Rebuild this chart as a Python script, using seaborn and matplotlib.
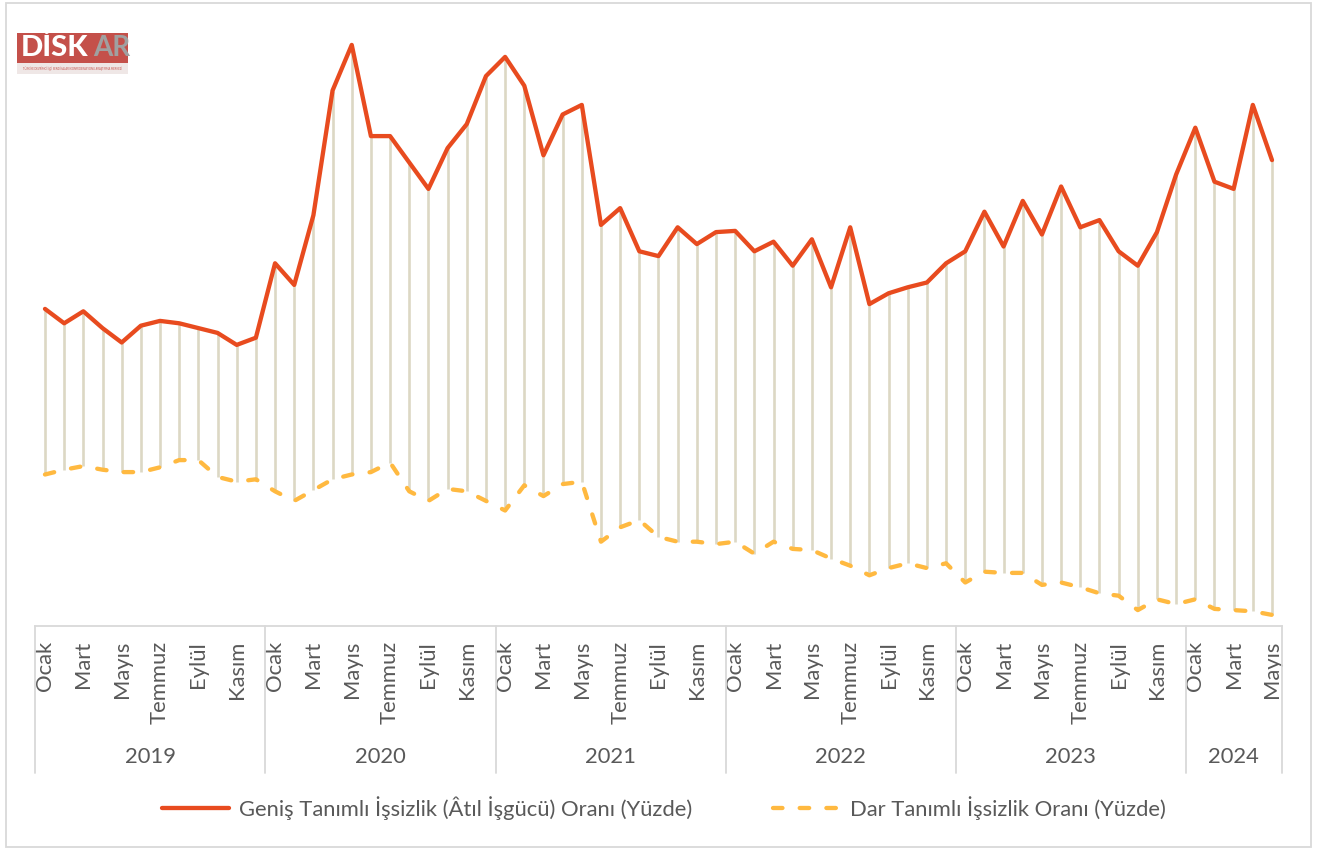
import numpy as np
import pandas as pd
import seaborn as sns
import matplotlib.pyplot as plt
from matplotlib.patches import Rectangle
from matplotlib.lines import Line2D
import matplotlib.transforms as mtransforms

sns.set_theme(style="white")
plt.rcParams['font.family'] = ['Lato', 'DejaVu Sans']

years = ["2019", "2020", "2021", "2022", "2023", "2024"]
months_per_year = [12, 12, 12, 12, 12, 5]
month_names = ["Ocak", "Şubat", "Mart", "Nisan", "Mayıs", "Haziran",
               "Temmuz", "Ağustos", "Eylül", "Ekim", "Kasım", "Aralık"]

genis = [21.2, 20.6, 21.1, 20.4, 19.8, 20.5, 20.7, 20.6, 20.4, 20.2, 19.7, 20.0,
         23.1, 22.2, 25.1, 30.3, 32.2, 28.4, 28.4, 27.3, 26.2, 27.9, 28.9, 30.9,
         31.7, 30.5, 27.6, 29.3, 29.7, 24.7, 25.4, 23.6, 23.4, 24.6, 23.9, 24.4,
         24.45, 23.6, 24.0, 23.0, 24.1, 22.1, 24.6, 21.4, 21.85, 22.1, 22.3, 23.1,
         23.6, 25.25, 23.8, 25.7, 24.3, 26.3, 24.6, 24.9, 23.6, 23.0, 24.4, 26.8,
         28.75, 26.5, 26.2, 29.7, 27.4]
dar = [14.3, 14.5, 14.65, 14.5, 14.4, 14.4, 14.6, 14.9, 14.9, 14.2, 14.0, 14.1,
       13.6, 13.2, 13.65, 14.1, 14.3, 14.4, 14.8, 13.6, 13.2, 13.7, 13.6, 13.2,
       12.8, 13.85, 13.4, 13.9, 14.0, 11.5, 12.1, 12.4, 11.7, 11.5, 11.5, 11.4,
       11.5, 11.0, 11.5, 11.2, 11.15, 10.8, 10.5, 10.1, 10.4, 10.6, 10.4, 10.6,
       9.8, 10.25, 10.2, 10.2, 9.7, 9.8, 9.6, 9.35, 9.25, 8.65, 9.1, 8.9,
       9.1, 8.7, 8.65, 8.6, 8.45]

label_genis = "Geniş Tanımlı İşsizlik (Âtıl İşgücü) Oranı (Yüzde)"
label_dar = "Dar Tanımlı İşsizlik Oranı (Yüzde)"

months = []
year_of = []
for y, n in zip(years, months_per_year):
    months += month_names[:n]
    year_of += [y] * n
idx = np.arange(len(months))
df = pd.DataFrame({"i": idx, "ay": months, "yil": year_of, "genis": genis, "dar": dar})

RED = "#E84B1F"
YEL = "#FFB940"
DROP = "#DCD8C4"
TXT = "#595959"
GRID = "#D9D9D9"
FS = 15.8

W, H = 1328, 850
fig = plt.figure(figsize=(W / 100, H / 100), dpi=100)
ax_l = 35.4 / W
ax_r = (1272 + 9.585) / W
ax_b = (H - 625.7) / H
ax_t = (H - 25.7) / H
ax = fig.add_axes([ax_l, ax_b, ax_r - ax_l, ax_t - ax_b])

ax.vlines(df["i"], df["dar"], df["genis"], colors=DROP, lw=1.9, zorder=1)
sns.lineplot(data=df, x="i", y="genis", ax=ax, color=RED, lw=3.1, zorder=3,
             label=label_genis, legend=False)
sns.lineplot(data=df, x="i", y="dar", ax=ax, color=YEL, lw=3.1, zorder=2,
             label=label_dar, legend=False, dashes=False)
ax.lines[-1].set_dashes([2.2, 4.0])
ax.lines[-1].set_dash_capstyle('round')
ax.lines[-1].set_solid_capstyle('round')
for ln in ax.lines:
    ln.set_solid_joinstyle('round')

ax.set_xlim(-0.5, len(months) - 0.5)
ax.set_ylim(8, 33)
ax.set_yticks([])
ax.set_xlabel("")
ax.set_ylabel("")
for s in ["left", "right", "top"]:
    ax.spines[s].set_visible(False)
ax.spines["bottom"].set_color(GRID)
ax.spines["bottom"].set_linewidth(1.3)

tick_idx = idx[::2]
ax.set_xticks(tick_idx)
ax.set_xticklabels([months[i] for i in tick_idx], rotation=90, ha="center",
                   va="top", color=TXT, fontsize=FS)
ax.tick_params(axis="x", length=0, pad=11)

trans = mtransforms.blended_transform_factory(ax.transData, ax.transAxes)
start = -0.5
bounds = [start]
for y, n in zip(years, months_per_year):
    end = start + n
    ax.text((start + end) / 2, -0.219, y, transform=trans, ha="center",
            va="center", color=TXT, fontsize=FS)
    start = end
    bounds.append(end)
for b in bounds:
    ax.add_line(Line2D([b, b], [0, -0.2455], transform=trans, color=GRID,
                       lw=1.3, clip_on=False))

h1 = Line2D([], [], color=RED, lw=3.1)
h2 = Line2D([], [], color=YEL, lw=3.1, dashes=[2.2, 4.0], dash_capstyle='round')
leg = fig.legend([h1, h2], [label_genis, label_dar], loc="center",
                 bbox_to_anchor=(0.5, (H - 808) / H), ncol=2, frameon=False,
                 fontsize=FS, handlelength=3.05, handletextpad=0.45,
                 columnspacing=3.7)
for t in leg.get_texts():
    t.set_color(TXT)

# outer frame
fig.patches.append(Rectangle((6 / W, 3 / H), (1311 - 6) / W, (847 - 3) / H,
                             transform=fig.transFigure, fill=False,
                             edgecolor=GRID, lw=1.3))

# logo
fig.patches.append(Rectangle((17 / W, (H - 63) / H), 111 / W, 30 / H,
                             transform=fig.transFigure, facecolor="#C4504A",
                             edgecolor="none"))
fig.patches.append(Rectangle((17 / W, (H - 74) / H), 111 / W, 11 / H,
                             transform=fig.transFigure, facecolor="#EFE7E6",
                             edgecolor="none"))
fig.text(21 / W, (H - 48) / H, "DİSK", color="white", fontsize=21,
         fontweight="black", va="center", ha="left")
fig.text(93 / W, (H - 48) / H, "AR", color="#A0A0A0", fontsize=20,
         fontweight="bold", va="center", ha="left")
fig.text(72.5 / W, (H - 68.5) / H,
         "TÜRKİYE DEVRİMCİ İŞÇİ SENDİKALARI KONFEDERASYONU ARAŞTIRMA MERKEZİ",
         color="#C4504A", fontsize=1.9, va="center", ha="center")

fig.savefig("out.png", dpi=100)
